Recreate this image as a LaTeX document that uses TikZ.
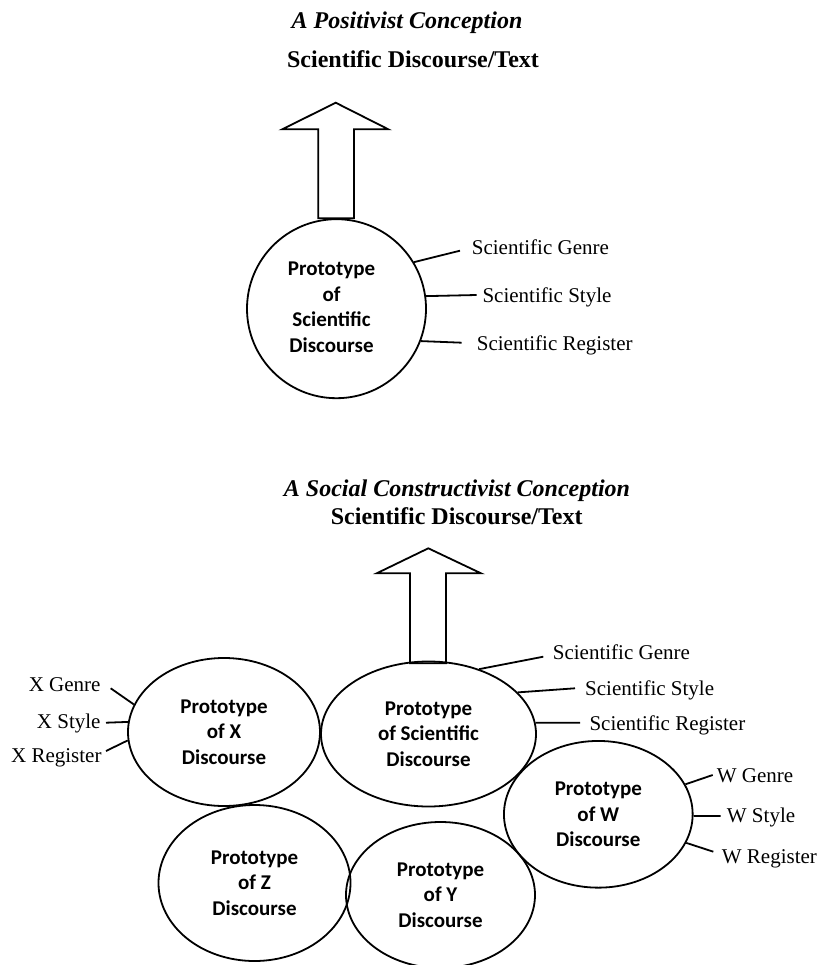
\documentclass[tikz,border=0pt]{standalone}
\usepackage{fontspec}
\setmainfont{Liberation Serif}
\newfontfamily\protofont{Carlito}
\usetikzlibrary{shapes.geometric}
\begin{document}
\begin{tikzpicture}[x=1pt,y=-1pt,
  ln/.style={line width=1.8pt},
  proto/.style={draw,line width=1.8pt,ellipse,inner sep=0pt,align=center,
    font=\protofont\bfseries\fontsize{21}{25.5}\selectfont},
  lab/.style={inner sep=0pt,font=\fontsize{21}{25}\selectfont},
  head/.style={inner sep=0pt,anchor=base,font=\bfseries\fontsize{24}{28}\selectfont},
  ihead/.style={inner sep=0pt,anchor=base,font=\bfseries\itshape\fontsize{24}{28}\selectfont},
  blockarrow/.style={draw,fill=white,line width=1.8pt,line join=miter}]
\useasboundingbox (0,0) rectangle (820,965);

% ---------- Positivist conception ----------
\node[ihead] (t1) at (407,29) {A Positivist Conception};
\node[head] (h1) at (413,68) {Scientific Discourse/Text};

\draw[blockarrow] (318.3,218.3) -- (318.3,129.3) -- (282.3,129.3) -- (335.7,102.7)
  -- (388.3,129.3) -- (354,129.3) -- (354,218.3) -- cycle;

\node[draw,line width=1.8pt,circle,inner sep=0pt,minimum size=179pt,
      font=\protofont\bfseries\fontsize{21}{25.5}\selectfont] (c) at (336.5,308.7)
  {\begin{tabular}{@{}c@{}}Prototype\\of\\Scientific\\Discourse\end{tabular}\hspace*{10pt}};

\node[lab,anchor=base west] (g1) at (471.7,254.3) {Scientific Genre};
\node[lab,anchor=base west] (s1) at (482.3,302.3) {Scientific Style};
\node[lab,anchor=base west] (r1) at (476.7,350.7) {Scientific Register};
\draw[ln] (c.31) -- ([shift={(-11.7,-3.6)}]g1.base west);
\draw[ln] (c.8.5) -- ([shift={(-5.6,-7.3)}]s1.base west);
\draw[ln] (c.-21.6) -- ([shift={(-15,-8)}]r1.base west);

% ---------- Social constructivist conception ----------
\node[ihead] (t2) at (457,496.7) {A Social Constructivist Conception};
\node[head] (h2) at (456.7,524) {Scientific Discourse/Text};

\draw[blockarrow] (410,663.3) -- (410,573.3) -- (376.7,573.3) -- (428.3,548.3)
  -- (481,573.3) -- (446,573.3) -- (446,663.3) -- cycle;

\node[proto,minimum width=215pt,minimum height=145pt] (sci) at (428.5,734)
  {Prototype\\of Scientific\\Discourse};
\node[proto,minimum width=192pt,minimum height=148pt] (x) at (224,732)
  {Prototype\\of X\\Discourse};
\node[proto,minimum width=192pt,minimum height=156pt] (z) at (254.5,883)
  {Prototype\\of Z\\Discourse};
\node[proto,minimum width=189pt,minimum height=146pt] (y) at (440.5,895)
  {Prototype\\of Y\\Discourse};
\node[proto,minimum width=188.7pt,minimum height=146.7pt] (w) at (598.3,814.3)
  {Prototype\\of W\\Discourse};

% scientific labels
\node[lab,anchor=base west] (g2) at (552.7,659.3) {Scientific Genre};
\node[lab,anchor=base west] (s2) at (585,695) {Scientific Style};
\node[lab,anchor=base west] (r2) at (589.3,730) {Scientific Register};
\draw[ln] (sci.52.2) -- ([shift={(-9.4,-2.6)}]g2.base west);
\draw[ln] (sci.25.5) -- ([shift={(-10,-6.7)}]s2.base west);
\draw[ln] (sci.6) -- ([shift={(-9.3,-7.3)}]r2.base west);

% W labels
\node[lab,anchor=base west] (wg) at (716.7,782.7) {W Genre};
\node[lab,anchor=base west] (ws) at (726.7,822.7) {W Style};
\node[lab,anchor=base west] (wr) at (721.7,863.3) {W Register};
\draw[ln] (w.19) -- ([shift={(-4,-7.7)}]wg.base west);
\draw[ln] (w.-1) -- ([shift={(-6,-6.7)}]ws.base west);
\draw[ln] (w.-18.7) -- ([shift={(-8.4,-11.6)}]wr.base west);

% X labels
\node[lab,anchor=base east] (xg) at (100.7,691.7) {X Genre};
\node[lab,anchor=base east] (xs) at (100.7,728.3) {X Style};
\node[lab,anchor=base east] (xr) at (101.7,762.7) {X Register};
\draw[ln] (x.163.2) -- ([shift={(10,-3.4)}]xg.base east);
\draw[ln] (x.174.5) -- ([shift={(5.3,-5.6)}]xs.base east);
\draw[ln] (x.-175.6) -- ([shift={(4.3,-11.7)}]xr.base east);
\end{tikzpicture}
\end{document}
